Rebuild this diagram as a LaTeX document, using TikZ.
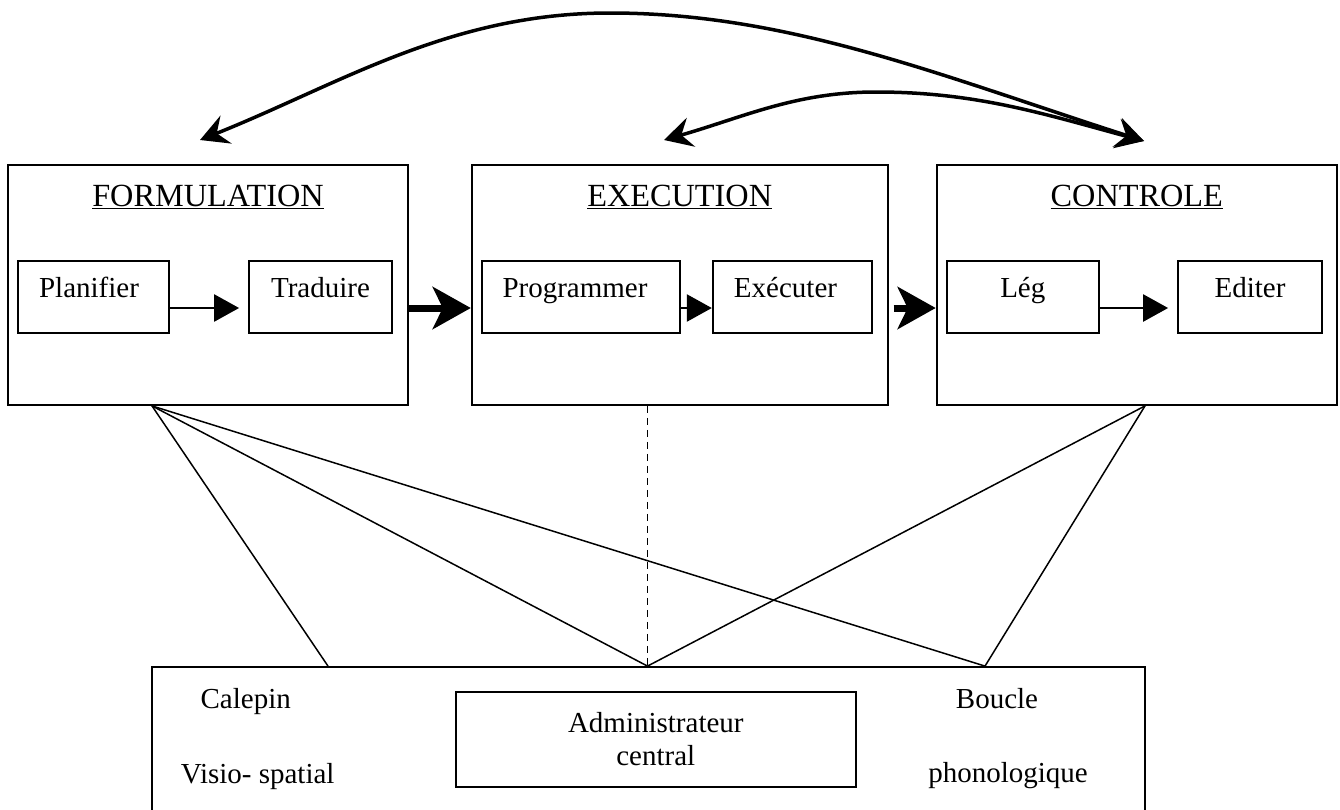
\documentclass[tikz,border=0pt]{standalone}
\usepackage{fontspec}
\setmainfont{Liberation Serif}
\usetikzlibrary{arrows.meta,calc}
\begin{document}
\begin{tikzpicture}[x=1pt,y=-1pt,
  outerbox/.style={draw, line width=1.8pt, inner sep=0pt, minimum height=240pt,
    text height=41.7pt, text depth=198.3pt, font=\fontsize{32.3}{38}\selectfont},
  innerbox/.style={draw, line width=1.8pt, inner sep=0pt, minimum height=72pt,
    text height=37pt, text depth=35pt, font=\fontsize{29}{34}\selectfont},
  lbl/.style={inner sep=0pt, anchor=base, font=\fontsize{29}{34}\selectfont},
  smallarrow/.style={line width=2.5pt, -{Triangle[length=25pt,width=27pt]}},
  bigarrow/.style={line width=7pt, -{Stealth[length=38pt,width=42pt,inset=10pt]}},
  arcarrow/.style={line width=3.5pt,
    {Stealth[length=28pt,width=30pt,inset=10pt]}-{Stealth[length=28pt,width=30pt,inset=10pt]}},
  conn/.style={line width=1.5pt}
]
\useasboundingbox (0,0) rectangle (1340,809);
\clip (0,0) rectangle (1340,809);

% main boxes
\node[outerbox, minimum width=400.3pt] (form) at (208,285) {\underline{FORMULATION}};
\node[outerbox, minimum width=416pt] (exe) at (679.7,285) {\underline{EXECUTION}};
\node[outerbox, minimum width=400.4pt] (ctrl) at (1136.8,285) {\underline{CONTROLE}};

% inner boxes
\node[innerbox, minimum width=151pt] (plan) at (93.5,296.7) {\hspace*{-9pt}Planifier};
\node[innerbox, minimum width=143pt] (trad) at (320.5,296.7) {Traduire};
\node[innerbox, minimum width=198pt] (prog) at (581,296.7) {\hspace*{-12pt}Programmer};
\node[innerbox, minimum width=159.6pt] (exc) at (792.5,296.7) {\hspace*{-14pt}Exécuter};
\node[innerbox, minimum width=151.6pt] (leg) at (1022.8,296.7) {Lég};
\node[innerbox, minimum width=144pt] (edit) at (1250,296.7) {Editer};

\coordinate (ay) at (0,308);

% small arrows
\draw[smallarrow] (plan.east |- ay) -- ($(trad.west |- ay)+(-9,0)$);
\draw[smallarrow] (prog.east |- ay) -- (exc.west |- ay);
\draw[smallarrow] (leg.east |- ay) -- ($(edit.west |- ay)+(-9,0)$);

% thick arrows
\draw[bigarrow] (form.east |- ay) -- (exe.west |- ay);
\draw[bigarrow] ($(exe.east |- ay)+(5,0)$) -- (ctrl.west |- ay);

% top arcs
\coordinate (aF) at (200,140);
\coordinate (aE) at (664,140);
\coordinate (aC) at (1144,141);
\coordinate (pk1) at (610,13);
\coordinate (pk2) at (876,92);
\draw[arcarrow] (aF) .. controls (340,84) and (450,13) .. (pk1)
  .. controls (790,13) and (944,77) .. (aC);
\draw[arcarrow] (aE) .. controls (744,117) and (796,92) .. (pk2)
  .. controls (976,92) and (1044,114) .. (aC);

% bottom box
\node[draw, line width=1.8pt, inner sep=0pt, minimum width=993.3pt, minimum height=200pt] (wm) at (648.4,767) {};
\node[draw, line width=1.8pt, inner sep=0pt, minimum width=400.4pt, minimum height=95.6pt,
  align=center, font=\fontsize{29}{33}\selectfont] (adm) at (655.8,739.5) {Administrateur\\central};
\node[lbl] (cal) at (245.7,708) {Calepin};
\node[lbl] (vis) at (257.7,783) {Visio- spatial};
\node[lbl] (bou) at (997,708) {Boucle};
\node[lbl] (pho) at (1008,782) {phonologique};

% connectors
\coordinate (fB) at (152,0 |- form.south);
\coordinate (cB) at (1145,0 |- ctrl.south);
\coordinate (eB) at (647.5,0 |- exe.south);
\coordinate (w1) at (328,0 |- wm.north);
\coordinate (w2) at (647.5,0 |- wm.north);
\coordinate (w3) at (985,0 |- wm.north);
\draw[conn] (fB) -- (w1);
\draw[conn] (fB) -- (w2);
\draw[conn] (fB) -- (w3);
\draw[conn] (cB) -- (w2);
\draw[conn] (cB) -- (w3);
\draw[conn, dash pattern=on 7pt off 5pt] (eB) -- (w2);
\end{tikzpicture}
\end{document}
